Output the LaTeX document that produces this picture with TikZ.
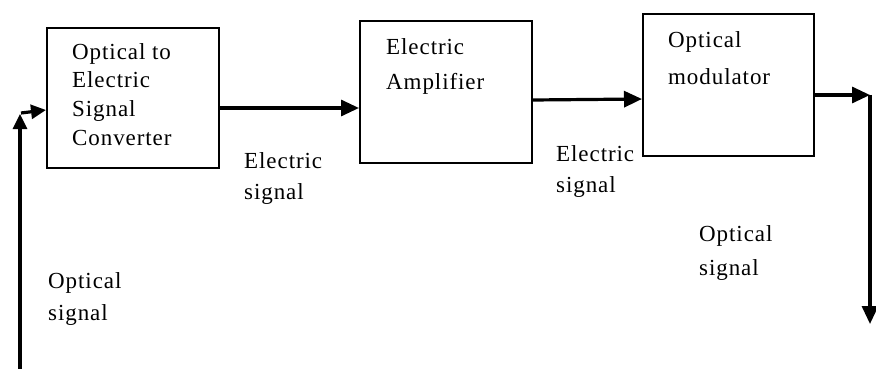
\documentclass[tikz,border=0pt]{standalone}
\usepackage{fontspec}
\setmainfont[LetterSpace=4]{Liberation Serif}
\usetikzlibrary{arrows.meta}
\begin{document}
\begin{tikzpicture}[x=1pt,y=-1pt,
  blockbox/.style={draw, line width=1.6pt, rectangle, inner sep=0pt},
  txt/.style={anchor=north west, inner sep=0pt, align=left},
  arr/.style={line width=3.2pt, -{Triangle[length=18pt,width=16pt]}},
  arrs/.style={line width=3.2pt, -{Triangle[length=15pt,width=14pt]}}]
\useasboundingbox (0,0) rectangle (876,369);
% boxes
\node[blockbox, anchor=north west, minimum width=172pt, minimum height=140pt] (b1) at (46,27) {};
\node[blockbox, anchor=north west, minimum width=172pt, minimum height=142pt] (b2) at (359,20) {};
\node[blockbox, anchor=north west, minimum width=171pt, minimum height=142pt] (b3) at (642,13) {};
% box texts
\node[txt, font=\fontsize{23}{28.7}\selectfont] (t1) at (72,43) {Optical to\\Electric\\Signal\\Converter};
\node[txt, font=\fontsize{23}{35}\selectfont] (t2) at (386,38) {Electric\\Amplifier};
\node[txt, font=\fontsize{23}{37}\selectfont] (t3) at (668,31) {Optical\\modulator};
% labels
\node[txt, font=\fontsize{23}{31}\selectfont] (l1) at (244,152) {Electric\\signal};
\node[txt, font=\fontsize{23}{31}\selectfont] (l2) at (556,145) {Electric\\signal};
\node[txt, font=\fontsize{23}{34}\selectfont] (l3) at (699,225) {Optical\\signal};
\node[txt, font=\fontsize{23}{32}\selectfont] (l4) at (48,272) {Optical\\signal};
% coordinates
\coordinate (inbot) at (20,369);
\coordinate (intop) at (20,114);
\coordinate (cornerR) at (870,95);
\coordinate (outend) at (870,324);
% connectors
\draw[arrs] (inbot) -- (intop);
\draw[arrs] (21,113) -- (b1.west |- 0,110);
\draw[arr] (b1.east |- 0,108) -- (b2.west |- 0,108);
\draw[arr] (b2.east |- 0,100) -- (b3.west |- 0,99);
\draw[arr] (b3.east |- cornerR) -- (cornerR);
\draw[arr] (cornerR) -- (outend);
\end{tikzpicture}
\end{document}
